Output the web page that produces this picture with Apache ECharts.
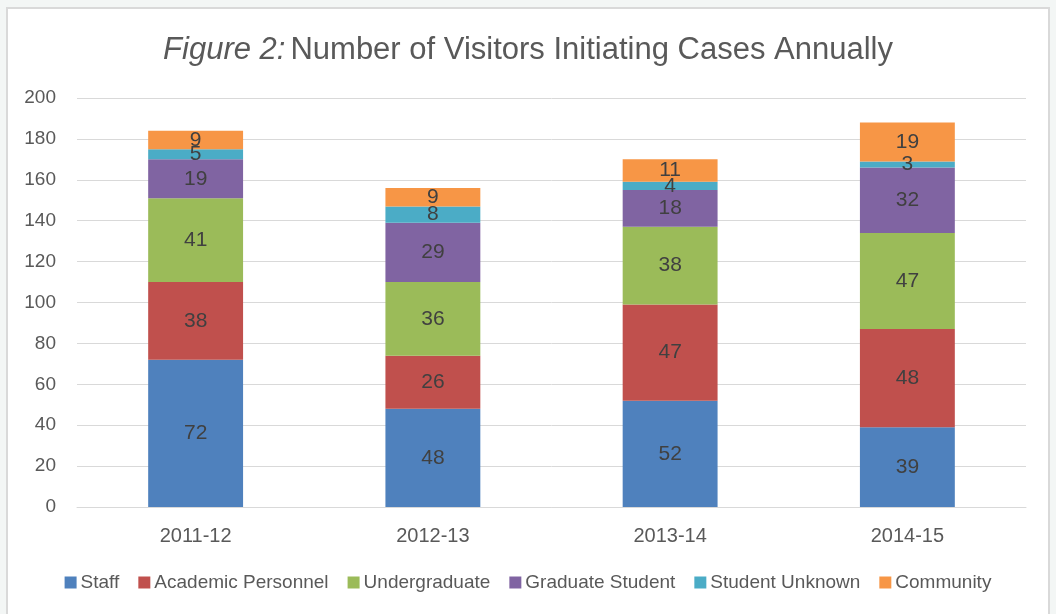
<!DOCTYPE html>
<html>
<head>
<meta charset="utf-8">
<script src="https://cdn.jsdelivr.net/npm/echarts@6/dist/echarts.min.js"></script>
<style>
  html, body { margin: 0; padding: 0; background: #f3f6f5; }
  #frame {
    position: absolute; left: 6px; top: 7px; width: 1044px; height: 620px;
    background: #fff; border: 2px solid #d9d9d9; box-sizing: border-box;
  }
  #chart { position: absolute; left: 0; top: 0; width: 1056px; height: 614px; }
</style>
</head>
<body>
<div id="frame"></div>
<div id="chart"></div>
<script>
// 年度
var years = ["2011-12", "2012-13", "2013-14", "2014-15"];
// 各类访客人数
var staff = [72, 48, 52, 39];
var academic = [38, 26, 47, 48];
var undergrad = [41, 36, 38, 47];
var graduate = [19, 29, 18, 32];
var unknown = [5, 8, 4, 3];
var community = [9, 9, 11, 19];
var yTicks = [0, 20, 40, 60, 80, 100, 120, 140, 160, 180, 200];

var chart = echarts.init(document.getElementById("chart"));

function mkSeries(name, data, color) {
  return {
    name: name,
    type: "bar",
    stack: "total",
    barWidth: "40%",
    data: data,
    itemStyle: { color: color },
    label: {
      show: true,
      position: "inside",
      color: "#404040",
      fontSize: 21,
      fontFamily: "Liberation Sans",
    },
  };
}

var option = {
  animation: false,
  textStyle: { fontFamily: "Liberation Sans" },
  title: {
    text: "{i|Figure 2:} {n|Number of Visitors Initiating Cases Annually}",
    left: "center",
    top: 30,
    textStyle: {
      rich: {
        i: { fontSize: 31, fontStyle: "italic", fontWeight: "normal", color: "#595959", fontFamily: "Liberation Sans" },
        n: { fontSize: 31, fontWeight: "normal", color: "#595959", fontFamily: "Liberation Sans" },
      },
    },
  },
  legend: {
    bottom: 17,
    left: "center",
    itemWidth: 12,
    itemHeight: 12,
    itemGap: 19,
    icon: "rect",
    textStyle: { color: "#595959", fontSize: 19, padding: [0, 0, 0, -1] },
  },
  grid: { left: 77, right: 30, top: 98, bottom: 107 },
  xAxis: {
    type: "category",
    data: years,
    axisTick: { show: false },
    axisLine: { lineStyle: { color: "#d9d9d9" } },
    axisLabel: { color: "#595959", fontSize: 20, margin: 19 },
  },
  yAxis: {
    type: "value",
    min: yTicks[0],
    max: yTicks[yTicks.length - 1],
    interval: 20,
    axisLine: { show: false },
    axisTick: { show: false },
    axisLabel: { color: "#595959", fontSize: 19, margin: 21 },
    splitLine: { lineStyle: { color: "#d9d9d9" } },
  },
  series: [
    mkSeries("Staff", staff, "#4f81bd"),
    mkSeries("Academic Personnel", academic, "#c0504d"),
    mkSeries("Undergraduate", undergrad, "#9bbb59"),
    mkSeries("Graduate Student", graduate, "#8064a2"),
    mkSeries("Student Unknown", unknown, "#4bacc6"),
    mkSeries("Community", community, "#f79646"),
  ],
};
chart.setOption(option);
</script>
</body>
</html>
